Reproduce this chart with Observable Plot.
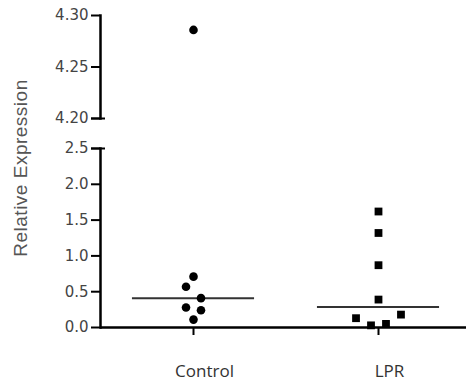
<!DOCTYPE html>
<html>
<head>
<meta charset="utf-8">
<script src="https://cdn.jsdelivr.net/npm/d3@7"></script>
<script src="https://cdn.jsdelivr.net/npm/@observablehq/plot@0.6"></script>
<style>
  html, body { margin: 0; padding: 0; background: #fff; }
  #chart { position: relative; width: 466px; height: 392px; overflow: hidden; }
  #chart > svg { position: absolute; left: 0; }
  #ylabel {
    position: absolute; left: 21px; top: 168px;
    transform: translate(-50%, -50%) rotate(-90deg);
    font: 19px "Liberation Sans", Arial, sans-serif;
    letter-spacing: 0.5px; color: #555; white-space: nowrap;
  }
</style>
</head>
<body>
<div id="chart"><div id="ylabel">Relative Expression</div></div>
<script>
// Relative expression per sample, by group
const groups = ["Control", "LPR"];
const controlValues = [4.286, 0.71, 0.57, 0.41, 0.28, 0.24, 0.11];
const lprValues = [1.62, 1.32, 0.87, 0.39, 0.13, 0.03, 0.05, 0.18];

// Broken y axis: an upper segment for the outlier and a lower one for the rest
const upperDomain = [4.20, 4.30];
const lowerDomain = [0, 2.5];
const upperTicks = [4.20, 4.25, 4.30];
const lowerTicks = [0.0, 0.5, 1.0, 1.5, 2.0, 2.5];

// Scatter layout: values sharing a 0.2-wide row sit side by side around the group centre
const rowHeight = 0.2;
const spacing = 0.081;
const points = [];
[controlValues, lprValues].forEach((values, g) => {
  const rows = d3.group(values, v => Math.floor(v / rowHeight));
  for (const row of rows.values()) {
    row.forEach((v, k) => points.push({
      group: groups[g],
      value: v,
      x: g + (k - (row.length - 1) / 2) * spacing
    }));
  }
});
const medians = [controlValues, lprValues].map((values, g) => ({g, median: d3.median(values)}));

const xScale = {type: "linear", domain: [0, 1], range: [193, 378], axis: null};
const tickFont = {fontSize: 15, fontFamily: "DejaVu Sans, sans-serif", fill: "#444", stroke: "#000", strokeWidth: 2, tickSize: 9, tickPadding: 3, label: null};
// end ticks of each axis segment cross the axis line slightly
const endTick = {stroke: "#000", strokeWidth: 2, tickSize: 14, dx: 5, tickFormat: () => "", label: null};

function dots(filter) {
  return [
    Plot.dot(points.filter(d => d.group === groups[0] && filter(d.value)), {x: "x", y: "value", r: 4.3, fill: "#000", symbol: "circle"}),
    Plot.dot(points.filter(d => d.group === groups[1] && filter(d.value)), {x: "x", y: "value", r: 4.4, fill: "#000", symbol: "square"})
  ];
}

const upper = Plot.plot({
  width: 466, height: 125,
  marginTop: 15, marginBottom: 7, marginLeft: 100, marginRight: 0,
  x: xScale, y: {domain: upperDomain, axis: null},
  style: {background: "transparent", overflow: "visible"},
  marks: [
    Plot.frame({anchor: "left", stroke: "#000", strokeWidth: 2.5}),
    Plot.axisY(upperTicks, {...tickFont, tickFormat: d3.format(".2f")}),
    Plot.axisY([upperDomain[0]], endTick),
    ...dots(v => v >= upperDomain[0])
  ]
});

const lower = Plot.plot({
  width: 466, height: 267,
  marginTop: 23, marginBottom: 65, marginLeft: 100, marginRight: 0,
  x: xScale, y: {domain: lowerDomain, axis: null},
  style: {background: "transparent", overflow: "visible"},
  marks: [
    Plot.ruleY(medians, {y: "median", x1: d => d.g - 0.33, x2: d => d.g + 0.33, stroke: "#333", strokeWidth: 2}),
    ...dots(v => v <= lowerDomain[1]),
    Plot.frame({anchor: "left", stroke: "#000", strokeWidth: 2.5}),
    Plot.ruleY([0], {stroke: "#000", strokeWidth: 2.5}),
    Plot.axisY(lowerTicks, {...tickFont, tickFormat: d3.format(".1f")}),
    Plot.axisY([lowerDomain[1]], endTick),
    Plot.axisX([0, 1], {stroke: "#000", strokeWidth: 2, tickSize: 8, tickFormat: () => "", label: null}),
    Plot.text([0, 1], {x: d => d, text: d => groups[d], frameAnchor: "bottom", dy: 49, dx: 11,
      fontSize: 17, fontFamily: "Open Sans, sans-serif", fill: "#333"})
  ]
});

upper.style.top = "0px";
lower.style.top = "125px";
const chart = document.getElementById("chart");
chart.appendChild(upper);
chart.appendChild(lower);
</script>
</body>
</html>
